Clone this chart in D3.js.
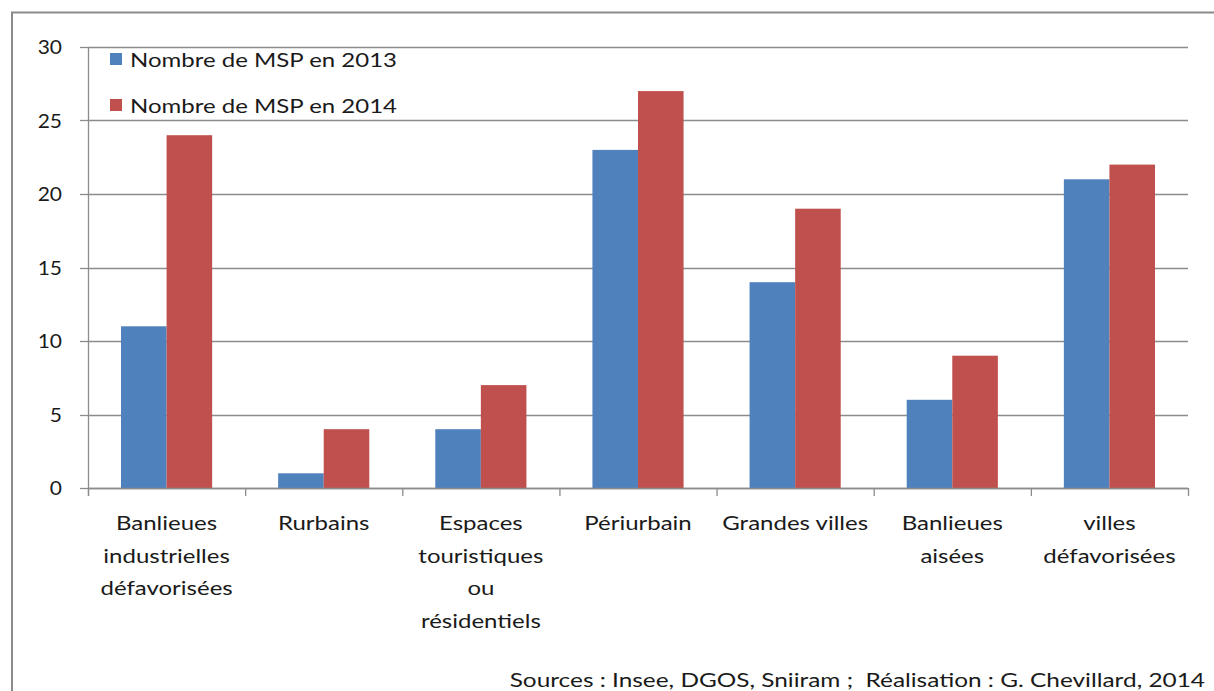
<!DOCTYPE html>
<html><head><meta charset="utf-8">
<script src="https://cdn.jsdelivr.net/npm/d3@7/dist/d3.min.js"></script>
<style>body{margin:0;background:#fff}svg{display:block}text{font-family:Lato,"Open Sans",sans-serif;fill:#1a1a1a;white-space:pre}</style>
</head><body><svg id="c" width="1214" height="691"></svg>
<script>
const categories = [["Banlieues","industrielles","défavorisées"],["Rurbains"],["Espaces","touristiques","ou","résidentiels"],["Périurbain"],["Grandes villes"],["Banlieues","aisées"],["villes","défavorisées"]];
const values2013 = [11,1,4,23,14,6,21];
const values2014 = [24,4,7,27,19,9,22];
const seriesNames = ["Nombre de MSP en 2013","Nombre de MSP en 2014"];
const seriesColors = ["#4f81bd","#c0504d"];
const yTicks = [0,5,10,15,20,25,30];
const sourceText = "Sources : Insee, DGOS, Sniiram ;  Réalisation : G. Chevillard, 2014";

const svg = d3.select("#c");
svg.append("path").attr("d","M12,700 L12,12.5 L1220,12.5").attr("fill","none").attr("stroke","#8a8a8a").attr("stroke-width",2);

const L=88,R=1188,T=47,B=488;
const x = d3.scaleBand().domain(d3.range(categories.length)).range([L,R]).paddingInner(0.42).paddingOuter(0.21);
const xs = d3.scaleBand().domain([0,1]).range([0,x.bandwidth()]);
const xb = d3.scaleBand().domain(d3.range(categories.length)).range([L,R]);
const y = d3.scaleLinear().domain([0,30]).range([B,T]);
const SX = 1.2;
function stext(parent, tx, ty, str, anchor, size, sx) {
  return parent.append("text").attr("transform",`translate(${tx},${ty}) scale(${sx||SX},1)`)
    .attr("text-anchor",anchor).attr("font-size",size||20).text(str);
}

const g = svg.append("g");
g.selectAll(".grid").data(yTicks).join("line").attr("x1",L).attr("x2",R).attr("y1",d=>Math.round(y(d))+0.5).attr("y2",d=>Math.round(y(d))+0.5).attr("stroke","#8c8c8c").attr("stroke-width",1.3);
g.selectAll(".yt").data(yTicks).join("line").attr("x1",L-8).attr("x2",L).attr("y1",d=>Math.round(y(d))+0.5).attr("y2",d=>Math.round(y(d))+0.5).attr("stroke","#8c8c8c").attr("stroke-width",1.3);
g.append("line").attr("x1",L+0.5).attr("x2",L+0.5).attr("y1",T).attr("y2",B+8).attr("stroke","#8c8c8c").attr("stroke-width",1.3);
g.selectAll(".xt").data(d3.range(categories.length+1)).join("line").attr("x1",d=>(d<categories.length?xb(d):R)+0.5).attr("x2",d=>(d<categories.length?xb(d):R)+0.5).attr("y1",B).attr("y2",B+8).attr("stroke","#8c8c8c").attr("stroke-width",1.3);
yTicks.forEach(d=>stext(g, L-26, y(d)+7, String(d), "end", 20, 1.05));

[values2013,values2014].forEach((vals,si)=>{
  g.selectAll(".bar"+si).data(vals).join("rect").attr("x",(d,i)=>x(i)+xs(si)).attr("width",xs.bandwidth()).attr("y",d=>y(d)).attr("height",d=>y(0)-y(d)).attr("fill",seriesColors[si]);
});
g.append("line").attr("x1",L).attr("x2",R).attr("y1",B+0.5).attr("y2",B+0.5).attr("stroke","#8c8c8c").attr("stroke-width",1.3);

categories.forEach((lines,i)=>{
  lines.forEach((ln,j)=>stext(g, xb(i)+xb.bandwidth()/2, 530+j*32.5, ln, "middle", 20));
});

seriesNames.forEach((n,i)=>{
  g.append("rect").attr("x",110).attr("y",53+i*46).attr("width",12).attr("height",12).attr("fill",seriesColors[i]);
  stext(g, 130, 67+i*46, n, "start", 20, 1.2);
});
stext(g, 1205, 687, sourceText, "end", 20, 1.22);
</script></body></html>
